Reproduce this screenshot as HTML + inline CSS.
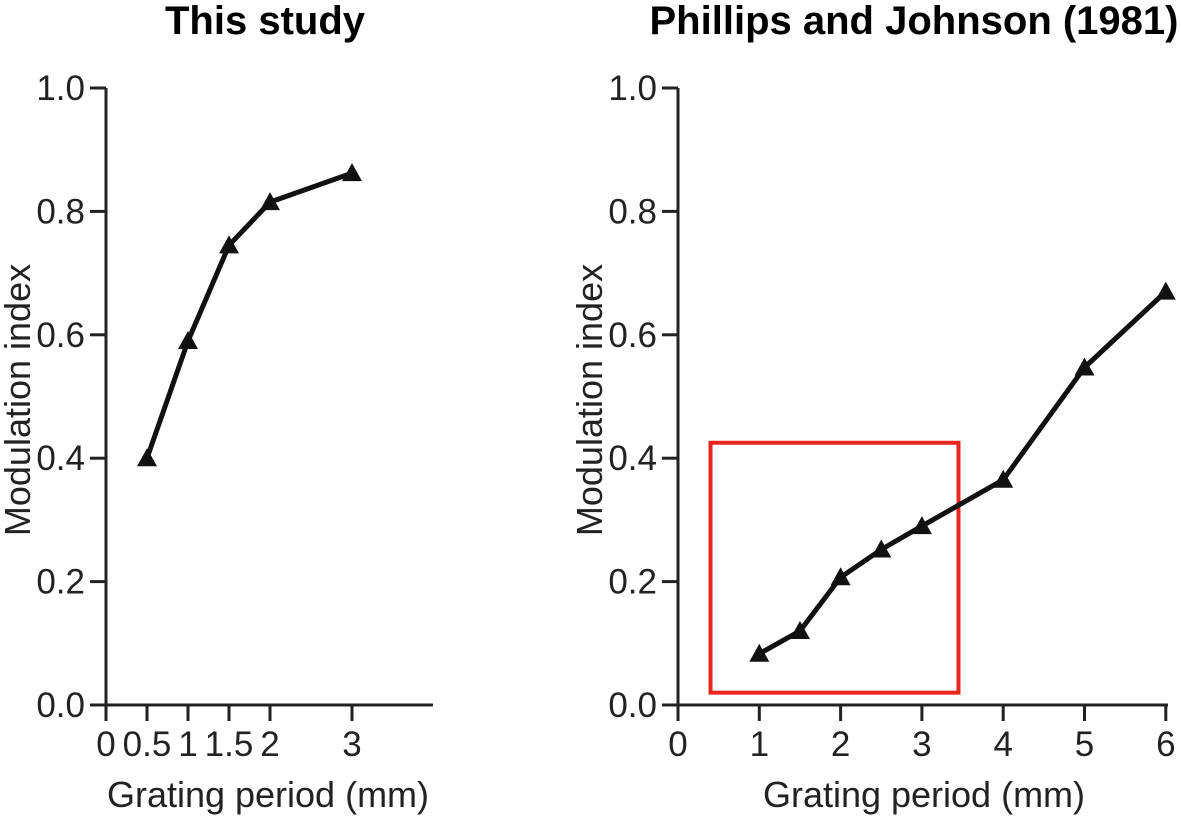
<!DOCTYPE html>
<html><head><meta charset="utf-8"><style>
html,body{margin:0;padding:0;background:#fff;}
svg{display:block;font-family:"Liberation Sans",Arial,sans-serif;}
</style></head><body>
<svg id="s" width="1181" height="818" viewBox="0 0 1181 818"></svg>
<script>
const leftX = [0.5, 1, 1.5, 2, 3];
const leftY = [0.40, 0.59, 0.745, 0.815, 0.862];
const leftXTicks = [0, 0.5, 1, 1.5, 2, 3];
const leftXTickLabels = ["0", "0.5", "1", "1.5", "2", "3"];
const rightX = [1, 1.5, 2, 2.5, 3, 4, 5, 6];
const rightY = [0.083, 0.12, 0.207, 0.252, 0.29, 0.365, 0.547, 0.67];
const rightXTicks = [0, 1, 2, 3, 4, 5, 6];
const yTicks = [0, 0.2, 0.4, 0.6, 0.8, 1.0];
const yTickLabels = ["0.0", "0.2", "0.4", "0.6", "0.8", "1.0"];
const redBoxX = [0.4, 3.45];
const redBoxY = [0.02, 0.425];

const NS = "http://www.w3.org/2000/svg";
const svg = document.getElementById('s');
function mk(tag, attrs, parent) {
  const e = document.createElementNS(NS, tag);
  for (const k in attrs) e.setAttribute(k, attrs[k]);
  (parent || svg).appendChild(e);
  return e;
}
function panel(cfg) {
  const g = mk('g', {});
  
  
  const sx = v => cfg.x0 + v * cfg.pxPerUnit;
  const sy = v => 705 - v * 617;
  const t = mk('text', {x: cfg.titleX, y: 34, 'font-size': 40, 'font-weight': 'bold', 'text-anchor': 'middle'}, g);
  t.textContent = cfg.title;
  
  
  const ya = mk('line', {x1: cfg.x0, y1: 88, x2: cfg.x0, y2: 720, stroke: '#222', 'stroke-width': 3}, g);
  
  
  const xa = mk('line', {x1: cfg.x0 - 16, y1: 705, x2: cfg.xEnd, y2: 705, stroke: '#222', 'stroke-width': 3}, g);
  
  
  yTicks.forEach((v, i) => {
    const y = sy(v);
    const tk = mk('line', {x1: cfg.x0 - 16, y1: y, x2: cfg.x0, y2: y, stroke: '#222', 'stroke-width': 3}, g);
    
    
    const lb = mk('text', {x: cfg.x0 - 21, y: y + 12, 'font-size': 35, 'text-anchor': 'end', fill: '#222'}, g);
    lb.textContent = yTickLabels[i];
    
    
  });
  cfg.xTicks.forEach((v, i) => {
    const x = sx(v);
    const tk = mk('line', {x1: x, y1: 705, x2: x, y2: 721, stroke: '#222', 'stroke-width': 3}, g);
    
    
    const lb = mk('text', {x: x, y: 756, 'font-size': 35, 'text-anchor': 'middle', fill: '#222'}, g);
    lb.textContent = cfg.xLabels[i];
    
    
  });
  const xt = mk('text', {x: cfg.xTitleX, y: 807, 'font-size': 36, 'text-anchor': 'middle', fill: '#222'}, g);
  xt.textContent = 'Grating period (mm)';
  
  
  const yt = mk('text', {x: 0, y: 0, 'font-size': 36, 'text-anchor': 'middle', fill: '#222', transform: `translate(${cfg.x0 - 76},400) rotate(-90)`}, g);
  yt.textContent = 'Modulation index';
  
  
  if (cfg.box) {
    const r = mk('rect', {x: sx(cfg.box[0][0]), y: sy(cfg.box[1][1]), width: sx(cfg.box[0][1]) - sx(cfg.box[0][0]), height: sy(cfg.box[1][0]) - sy(cfg.box[1][1]), fill: 'none', stroke: '#e8251f', 'stroke-width': 4}, g);
    
    
  }
  const pts = cfg.xs.map((v, i) => sx(v) + ',' + sy(cfg.ys[i])).join(' ');
  const ln = mk('polyline', {points: pts, fill: 'none', stroke: '#111', 'stroke-width': 5, 'stroke-linejoin': 'round'}, g);
  
  
  cfg.xs.forEach((v, i) => {
    const x = sx(v), y = sy(cfg.ys[i]);
    const m = mk('polygon', {points: `${x},${y - 10} ${x - 10},${y + 8} ${x + 10},${y + 8}`, fill: '#111'}, g);
    
    
  });
}
panel({name: 'left-chart', title: 'This study', titleX: 265, x0: 106, pxPerUnit: 82, xEnd: 433,
  xTicks: leftXTicks, xLabels: leftXTickLabels, xs: leftX, ys: leftY, xTitleX: 268});
panel({name: 'right-chart', title: 'Phillips and Johnson (1981)', titleX: 914, x0: 678, pxPerUnit: 81.3, xEnd: 1168,
  xTicks: rightXTicks, xLabels: rightXTicks.map(String), xs: rightX, ys: rightY, xTitleX: 924,
  box: [redBoxX, redBoxY]});
</script>
</body></html>
